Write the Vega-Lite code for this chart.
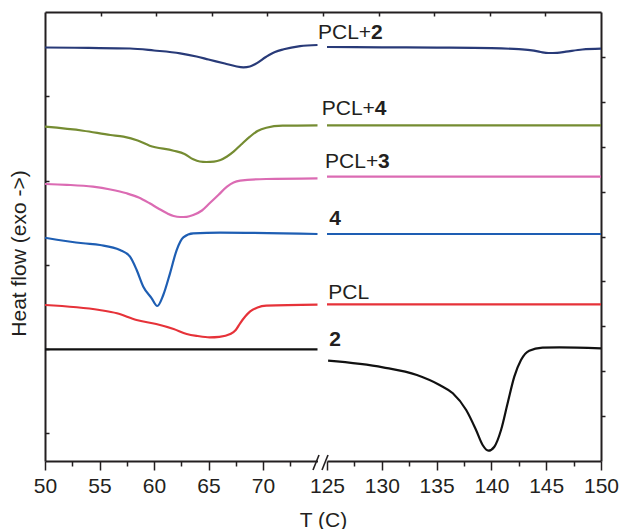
{
  "$schema": "https://vega.github.io/schema/vega-lite/v6.json",
  "width": 556,
  "height": 449,
  "autosize": {"type": "none"},
  "padding": {"left": 45, "top": 12, "right": 20, "bottom": 68},
  "background": "white",
  "config": {
    "view": {"stroke": null},
    "font": "Liberation Sans",
    "axis": {"domainColor": "#231f20", "domainWidth": 2, "tickColor": "#231f20", "tickWidth": 1.5, "grid": false, "labelFont": "Liberation Sans", "labelFontSize": 21, "labelColor": "#231f20", "titleFont": "Liberation Sans", "titleFontSize": 21, "titleFontWeight": "normal", "titleColor": "#231f20"}
  },
  "datasets": {
    "curves": [
      {"sample": "PCL+2", "seg": "L", "T": 50, "hf": 9.209},
      {"sample": "PCL+2", "seg": "L", "T": 54, "hf": 9.2},
      {"sample": "PCL+2", "seg": "L", "T": 57.8, "hf": 9.187},
      {"sample": "PCL+2", "seg": "L", "T": 60, "hf": 9.143},
      {"sample": "PCL+2", "seg": "L", "T": 62.4, "hf": 9.08},
      {"sample": "PCL+2", "seg": "L", "T": 63.9, "hf": 9.009},
      {"sample": "PCL+2", "seg": "L", "T": 65, "hf": 8.942},
      {"sample": "PCL+2", "seg": "L", "T": 66.5, "hf": 8.853},
      {"sample": "PCL+2", "seg": "L", "T": 67.5, "hf": 8.791},
      {"sample": "PCL+2", "seg": "L", "T": 68.2, "hf": 8.768},
      {"sample": "PCL+2", "seg": "L", "T": 68.8, "hf": 8.786},
      {"sample": "PCL+2", "seg": "L", "T": 69.3, "hf": 8.842},
      {"sample": "PCL+2", "seg": "L", "T": 70.3, "hf": 9.004},
      {"sample": "PCL+2", "seg": "L", "T": 71.1, "hf": 9.109},
      {"sample": "PCL+2", "seg": "L", "T": 71.9, "hf": 9.169},
      {"sample": "PCL+2", "seg": "L", "T": 73.4, "hf": 9.238},
      {"sample": "PCL+2", "seg": "L", "T": 75, "hf": 9.265},
      {"sample": "PCL+2", "seg": "R", "T": 125, "hf": 9.22},
      {"sample": "PCL+2", "seg": "R", "T": 130, "hf": 9.214},
      {"sample": "PCL+2", "seg": "R", "T": 135, "hf": 9.207},
      {"sample": "PCL+2", "seg": "R", "T": 140, "hf": 9.194},
      {"sample": "PCL+2", "seg": "R", "T": 142.5, "hf": 9.171},
      {"sample": "PCL+2", "seg": "R", "T": 143.7, "hf": 9.147},
      {"sample": "PCL+2", "seg": "R", "T": 144.5, "hf": 9.109},
      {"sample": "PCL+2", "seg": "R", "T": 145.2, "hf": 9.087},
      {"sample": "PCL+2", "seg": "R", "T": 146, "hf": 9.091},
      {"sample": "PCL+2", "seg": "R", "T": 146.8, "hf": 9.116},
      {"sample": "PCL+2", "seg": "R", "T": 148.3, "hf": 9.165},
      {"sample": "PCL+2", "seg": "R", "T": 150, "hf": 9.183},
      {"sample": "PCL+4", "seg": "L", "T": 50, "hf": 7.445},
      {"sample": "PCL+4", "seg": "L", "T": 53.5, "hf": 7.356},
      {"sample": "PCL+4", "seg": "L", "T": 56, "hf": 7.261},
      {"sample": "PCL+4", "seg": "L", "T": 57.2, "hf": 7.223},
      {"sample": "PCL+4", "seg": "L", "T": 58.5, "hf": 7.138},
      {"sample": "PCL+4", "seg": "L", "T": 59.6, "hf": 7.022},
      {"sample": "PCL+4", "seg": "L", "T": 61.8, "hf": 6.911},
      {"sample": "PCL+4", "seg": "L", "T": 62.8, "hf": 6.837},
      {"sample": "PCL+4", "seg": "L", "T": 63.6, "hf": 6.719},
      {"sample": "PCL+4", "seg": "L", "T": 64.2, "hf": 6.67},
      {"sample": "PCL+4", "seg": "L", "T": 64.8, "hf": 6.659},
      {"sample": "PCL+4", "seg": "L", "T": 65.5, "hf": 6.668},
      {"sample": "PCL+4", "seg": "L", "T": 66.1, "hf": 6.704},
      {"sample": "PCL+4", "seg": "L", "T": 66.7, "hf": 6.782},
      {"sample": "PCL+4", "seg": "L", "T": 67.3, "hf": 6.889},
      {"sample": "PCL+4", "seg": "L", "T": 68, "hf": 7.049},
      {"sample": "PCL+4", "seg": "L", "T": 68.8, "hf": 7.223},
      {"sample": "PCL+4", "seg": "L", "T": 69.5, "hf": 7.35},
      {"sample": "PCL+4", "seg": "L", "T": 70.3, "hf": 7.423},
      {"sample": "PCL+4", "seg": "L", "T": 71.8, "hf": 7.468},
      {"sample": "PCL+4", "seg": "L", "T": 75, "hf": 7.477},
      {"sample": "PCL+4", "seg": "R", "T": 125, "hf": 7.477},
      {"sample": "PCL+4", "seg": "R", "T": 137.5, "hf": 7.477},
      {"sample": "PCL+4", "seg": "R", "T": 150, "hf": 7.477},
      {"sample": "PCL+3", "seg": "L", "T": 50, "hf": 6.169},
      {"sample": "PCL+3", "seg": "L", "T": 52, "hf": 6.151},
      {"sample": "PCL+3", "seg": "L", "T": 54.4, "hf": 6.109},
      {"sample": "PCL+3", "seg": "L", "T": 56, "hf": 6.047},
      {"sample": "PCL+3", "seg": "L", "T": 57.5, "hf": 5.962},
      {"sample": "PCL+3", "seg": "L", "T": 58.6, "hf": 5.869},
      {"sample": "PCL+3", "seg": "L", "T": 59.6, "hf": 5.739},
      {"sample": "PCL+3", "seg": "L", "T": 60.4, "hf": 5.624},
      {"sample": "PCL+3", "seg": "L", "T": 61.2, "hf": 5.517},
      {"sample": "PCL+3", "seg": "L", "T": 61.8, "hf": 5.457},
      {"sample": "PCL+3", "seg": "L", "T": 62.4, "hf": 5.434},
      {"sample": "PCL+3", "seg": "L", "T": 63, "hf": 5.439},
      {"sample": "PCL+3", "seg": "L", "T": 63.6, "hf": 5.479},
      {"sample": "PCL+3", "seg": "L", "T": 64.4, "hf": 5.579},
      {"sample": "PCL+3", "seg": "L", "T": 65.1, "hf": 5.739},
      {"sample": "PCL+3", "seg": "L", "T": 65.9, "hf": 5.924},
      {"sample": "PCL+3", "seg": "L", "T": 66.7, "hf": 6.109},
      {"sample": "PCL+3", "seg": "L", "T": 67.3, "hf": 6.203},
      {"sample": "PCL+3", "seg": "L", "T": 67.9, "hf": 6.243},
      {"sample": "PCL+3", "seg": "L", "T": 70.3, "hf": 6.281},
      {"sample": "PCL+3", "seg": "L", "T": 75, "hf": 6.296},
      {"sample": "PCL+3", "seg": "R", "T": 125, "hf": 6.332},
      {"sample": "PCL+3", "seg": "R", "T": 137.5, "hf": 6.332},
      {"sample": "PCL+3", "seg": "R", "T": 150, "hf": 6.332},
      {"sample": "4", "seg": "L", "T": 50, "hf": 4.973},
      {"sample": "4", "seg": "L", "T": 53.5, "hf": 4.849},
      {"sample": "4", "seg": "L", "T": 55.05, "hf": 4.811},
      {"sample": "4", "seg": "L", "T": 56.88, "hf": 4.699},
      {"sample": "4", "seg": "L", "T": 57.8, "hf": 4.55},
      {"sample": "4", "seg": "L", "T": 58.41, "hf": 4.254},
      {"sample": "4", "seg": "L", "T": 59.02, "hf": 3.882},
      {"sample": "4", "seg": "L", "T": 59.79, "hf": 3.624},
      {"sample": "4", "seg": "L", "T": 60.3, "hf": 3.452},
      {"sample": "4", "seg": "L", "T": 60.85, "hf": 3.697},
      {"sample": "4", "seg": "L", "T": 61.47, "hf": 4.18},
      {"sample": "4", "seg": "L", "T": 62.08, "hf": 4.699},
      {"sample": "4", "seg": "L", "T": 62.69, "hf": 4.982},
      {"sample": "4", "seg": "L", "T": 63.6, "hf": 5.071},
      {"sample": "4", "seg": "L", "T": 66.06, "hf": 5.085},
      {"sample": "4", "seg": "L", "T": 75, "hf": 5.056},
      {"sample": "4", "seg": "R", "T": 125, "hf": 5.056},
      {"sample": "4", "seg": "R", "T": 137.5, "hf": 5.056},
      {"sample": "4", "seg": "R", "T": 150, "hf": 5.056},
      {"sample": "PCL", "seg": "L", "T": 50, "hf": 3.474},
      {"sample": "PCL", "seg": "L", "T": 55, "hf": 3.363},
      {"sample": "PCL", "seg": "L", "T": 56.6, "hf": 3.29},
      {"sample": "PCL", "seg": "L", "T": 58.4, "hf": 3.14},
      {"sample": "PCL", "seg": "L", "T": 60.2, "hf": 3.051},
      {"sample": "PCL", "seg": "L", "T": 61.8, "hf": 2.94},
      {"sample": "PCL", "seg": "L", "T": 63, "hf": 2.829},
      {"sample": "PCL", "seg": "L", "T": 64, "hf": 2.784},
      {"sample": "PCL", "seg": "L", "T": 65.1, "hf": 2.755},
      {"sample": "PCL", "seg": "L", "T": 66, "hf": 2.766},
      {"sample": "PCL", "seg": "L", "T": 67, "hf": 2.829},
      {"sample": "PCL", "seg": "L", "T": 67.5, "hf": 2.918},
      {"sample": "PCL", "seg": "L", "T": 67.9, "hf": 3.067},
      {"sample": "PCL", "seg": "L", "T": 68.8, "hf": 3.325},
      {"sample": "PCL", "seg": "L", "T": 69.5, "hf": 3.419},
      {"sample": "PCL", "seg": "L", "T": 70.3, "hf": 3.459},
      {"sample": "PCL", "seg": "L", "T": 75, "hf": 3.481},
      {"sample": "PCL", "seg": "R", "T": 125, "hf": 3.49},
      {"sample": "PCL", "seg": "R", "T": 137.5, "hf": 3.49},
      {"sample": "PCL", "seg": "R", "T": 150, "hf": 3.49},
      {"sample": "2", "seg": "L", "T": 50, "hf": 2.488},
      {"sample": "2", "seg": "L", "T": 62.5, "hf": 2.488},
      {"sample": "2", "seg": "L", "T": 75, "hf": 2.488},
      {"sample": "2", "seg": "R", "T": 125.1, "hf": 2.234},
      {"sample": "2", "seg": "R", "T": 130.1, "hf": 2.087},
      {"sample": "2", "seg": "R", "T": 133.2, "hf": 1.915},
      {"sample": "2", "seg": "R", "T": 135.27, "hf": 1.693},
      {"sample": "2", "seg": "R", "T": 136.48, "hf": 1.508},
      {"sample": "2", "seg": "R", "T": 137.7, "hf": 1.136},
      {"sample": "2", "seg": "R", "T": 138.6, "hf": 0.69},
      {"sample": "2", "seg": "R", "T": 139.2, "hf": 0.356},
      {"sample": "2", "seg": "R", "T": 139.73, "hf": 0.229},
      {"sample": "2", "seg": "R", "T": 140.27, "hf": 0.318},
      {"sample": "2", "seg": "R", "T": 140.88, "hf": 0.69},
      {"sample": "2", "seg": "R", "T": 141.48, "hf": 1.285},
      {"sample": "2", "seg": "R", "T": 142.09, "hf": 1.878},
      {"sample": "2", "seg": "R", "T": 142.7, "hf": 2.249},
      {"sample": "2", "seg": "R", "T": 143.45, "hf": 2.457},
      {"sample": "2", "seg": "R", "T": 144.66, "hf": 2.523},
      {"sample": "2", "seg": "R", "T": 146.2, "hf": 2.532},
      {"sample": "2", "seg": "R", "T": 150, "hf": 2.51}
    ],
    "labels": [
      {"prefix": "PCL+", "digit": "2", "T": 124.18, "hf": 9.399},
      {"prefix": "PCL+", "digit": "4", "T": 124.52, "hf": 7.706},
      {"prefix": "PCL+", "digit": "3", "T": 124.82, "hf": 6.519},
      {"prefix": "", "digit": "4", "T": 125.21, "hf": 5.256},
      {"prefix": "PCL", "digit": "", "T": 125.12, "hf": 3.601},
      {"prefix": "", "digit": "2", "T": 125.21, "hf": 2.561}
    ],
    "brk": [
      {"T1": 98.2, "T2": 99.28, "h1": -0.2, "h2": 0.134},
      {"T1": 99.82, "T2": 100.9, "h1": -0.2, "h2": 0.134}
    ]
  },
  "layer": [
    {
      "data": {"name": "curves"},
      "transform": [{"filter": "datum.seg === 'L'"}],
      "mark": {"type": "line", "strokeWidth": 2.2, "interpolate": "monotone"},
      "encoding": {
        "x": {"field": "T", "type": "quantitative",
          "scale": {"domain": [50, 75], "range": [0, 272.5], "nice": false, "zero": false},
          "axis": {"orient": "bottom", "values": [50, 52.5, 55, 57.5, 60, 62.5, 65, 67.5, 70, 72.5],
            "labelExpr": "datum.value % 5 === 0 ? datum.label : ''",
            "tickSize": {"condition": {"test": "datum.value % 5 === 0", "value": 9}, "value": 5},
            "labelPadding": 5, "labelFlush": false,
            "title": "T (C)", "titleX": 278, "titleY": 65, "titleAlign": "center", "titleBaseline": "alphabetic"}},
        "y": {"field": "hf", "type": "quantitative",
          "scale": {"domain": [0, 10], "nice": false, "zero": false},
          "axis": {"orient": "left", "values": [0.624, 2.494, 4.365, 6.236, 8.129], "labels": false, "tickSize": -4,
            "title": "Heat flow (exo ->)", "titleX": -20, "titleY": 241, "titleAngle": 270, "titleAlign": "center", "titleBaseline": "alphabetic"}},
        "color": {"field": "sample", "type": "nominal",
          "scale": {"domain": ["PCL+2", "PCL+4", "PCL+3", "4", "PCL", "2"], "range": ["#283a78", "#758c32", "#db6bb3", "#1e5eb3", "#e63239", "#111111"]},
          "legend": null}
      }
    },
    {
      "data": {"name": "curves"},
      "transform": [{"filter": "datum.seg === 'R'"}],
      "mark": {"type": "line", "strokeWidth": 2.2, "interpolate": "monotone"},
      "encoding": {
        "x": {"field": "T", "type": "quantitative",
          "scale": {"domain": [125, 150], "range": [282, 556], "nice": false, "zero": false},
          "axis": {"orient": "bottom", "values": [125, 127.5, 130, 132.5, 135, 137.5, 140, 142.5, 145, 147.5, 150],
            "labelExpr": "datum.value % 5 === 0 ? datum.label : ''",
            "tickSize": {"condition": {"test": "datum.value % 5 === 0", "value": 9}, "value": 5},
            "labelPadding": 5, "labelFlush": false, "title": null}},
        "y": {"field": "hf", "type": "quantitative",
          "scale": {"domain": [0, 10], "nice": false, "zero": false},
          "axis": {"orient": "right", "values": [1, 2, 3, 4, 5, 6, 7, 8, 9], "labels": false, "tickSize": 4, "title": null}},
        "color": {"field": "sample", "type": "nominal", "legend": null}
      }
    },
    {
      "data": {"name": "labels"},
      "transform": [{"filter": "datum.prefix !== ''"}],
      "mark": {"type": "text", "align": "left", "baseline": "alphabetic", "fontSize": 21, "color": "#231f20", "font": "Liberation Sans"},
      "encoding": {
        "x": {"field": "T", "type": "quantitative", "scale": {"domain": [125, 150], "range": [282, 556], "nice": false, "zero": false}, "axis": null},
        "y": {"field": "hf", "type": "quantitative", "scale": {"domain": [0, 10], "nice": false, "zero": false}, "axis": null},
        "text": {"field": "prefix"}
      }
    },
    {
      "data": {"name": "labels"},
      "transform": [{"filter": "datum.prefix !== '' && datum.digit !== ''"}],
      "mark": {"type": "text", "align": "left", "baseline": "alphabetic", "fontSize": 21, "fontWeight": "bold", "dx": 53, "color": "#231f20", "font": "Liberation Sans"},
      "encoding": {
        "x": {"field": "T", "type": "quantitative", "scale": {"domain": [125, 150], "range": [282, 556], "nice": false, "zero": false}, "axis": null},
        "y": {"field": "hf", "type": "quantitative", "scale": {"domain": [0, 10], "nice": false, "zero": false}, "axis": null},
        "text": {"field": "digit"}
      }
    },
    {
      "data": {"name": "labels"},
      "transform": [{"filter": "datum.prefix === ''"}],
      "mark": {"type": "text", "align": "left", "baseline": "alphabetic", "fontSize": 21, "fontWeight": "bold", "color": "#231f20", "font": "Liberation Sans"},
      "encoding": {
        "x": {"field": "T", "type": "quantitative", "scale": {"domain": [125, 150], "range": [282, 556], "nice": false, "zero": false}, "axis": null},
        "y": {"field": "hf", "type": "quantitative", "scale": {"domain": [0, 10], "nice": false, "zero": false}, "axis": null},
        "text": {"field": "digit"}
      }
    },
    {
      "data": {"name": "brk"},
      "mark": {"type": "rule", "strokeWidth": 1.6, "color": "#231f20"},
      "encoding": {
        "x": {"field": "T1", "type": "quantitative", "scale": {"domain": [50, 150], "range": [0, 556], "nice": false, "zero": false},
          "axis": {"orient": "top", "values": [60, 70, 80, 90, 100, 110, 120, 130, 140], "labels": false, "tickSize": -4, "title": null}},
        "x2": {"field": "T2"},
        "y": {"field": "h1", "type": "quantitative", "scale": {"domain": [0, 10], "nice": false, "zero": false}, "axis": null},
        "y2": {"field": "h2"}
      }
    }
  ],
  "resolve": {"scale": {"x": "independent"}, "axis": {"x": "independent", "y": "independent"}}
}
